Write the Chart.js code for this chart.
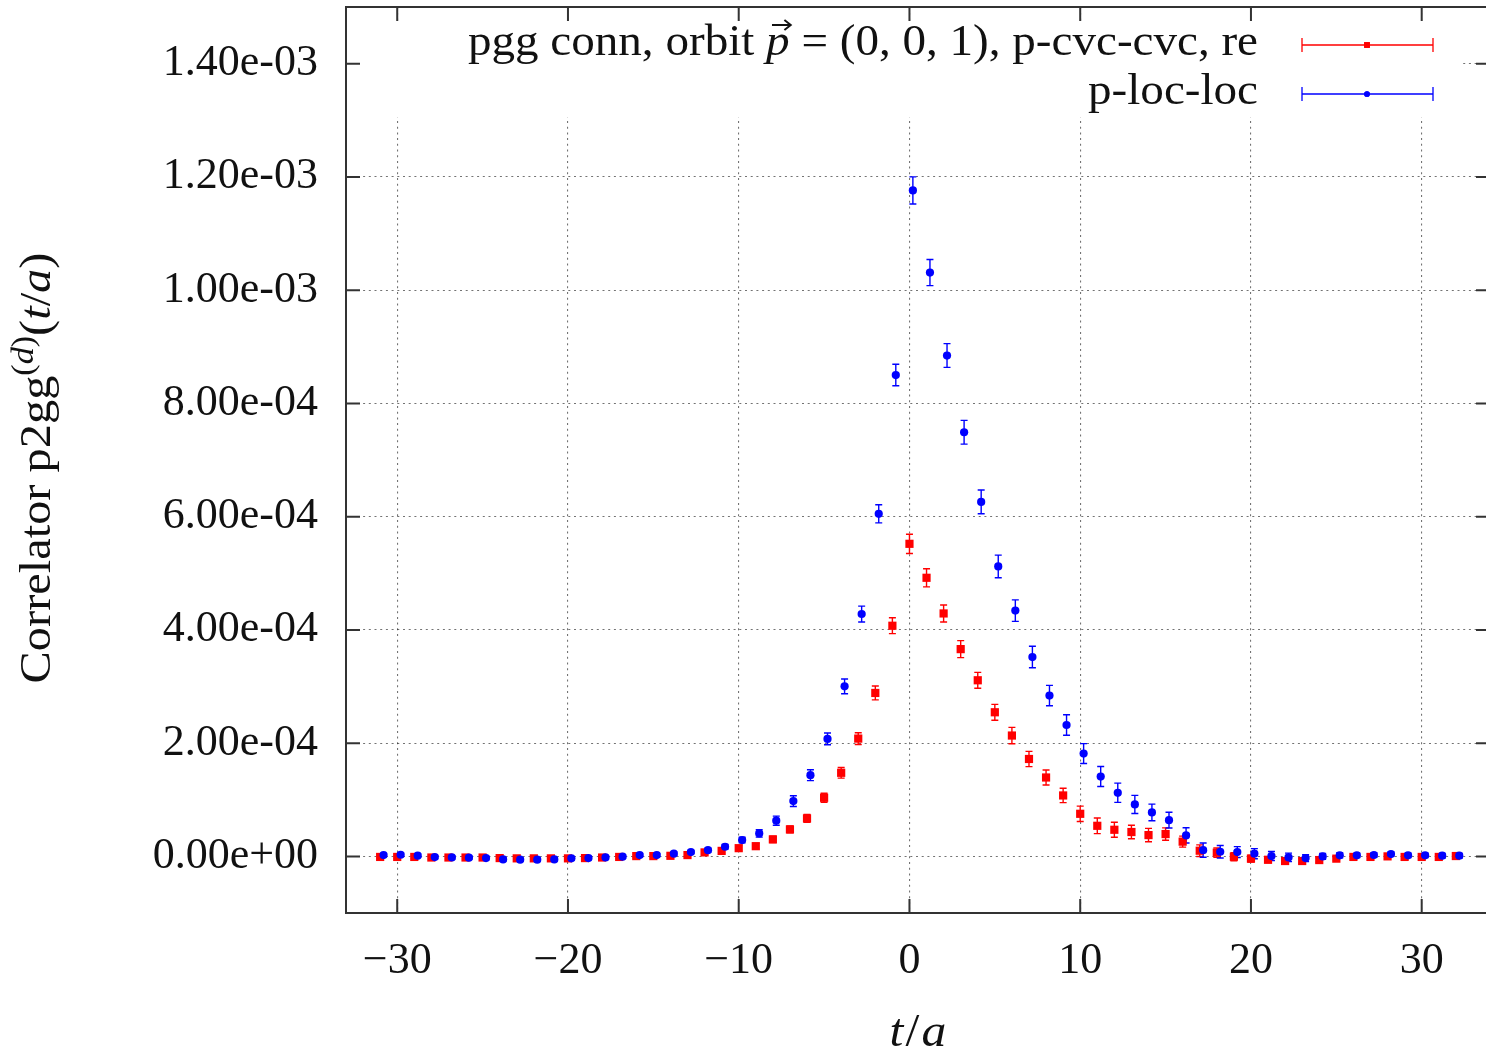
<!DOCTYPE html>
<html><head><meta charset="utf-8">
<style>html,body{margin:0;padding:0;background:#fff;overflow:hidden;}</style>
<script src="https://cdn.jsdelivr.net/npm/chart.js@4.4.0/dist/chart.umd.min.js"></script>
</head><body>
<canvas id="c" width="1500" height="1060"></canvas>
<script>
// ---- data (values and errors in units of 1e-4) ----
const redT = [-31,-30,-29,-28,-27,-26,-25,-24,-23,-22,-21,-20,-19,-18,-17,-16,-15,-14,-13,-12,-11,-10,-9,-8,-7,-6,-5,-4,-3,-2,-1,0,1,2,3,4,5,6,7,8,9,10,11,12,13,14,15,16,17,18,19,20,21,22,23,24,25,26,27,28,29,30,31,32];
const redVal = [-0.01,-0.01,-0.01,-0.02,-0.02,-0.02,-0.02,-0.03,-0.035,-0.035,-0.035,-0.035,-0.03,-0.02,-0.01,0.005,0.005,0.01,
  0.023,0.07,0.097,0.145,0.18,0.30,0.476,0.67,1.035,1.476,2.08,2.886,4.073,
  5.52,4.92,4.29,3.66,3.11,2.545,2.134,1.72,1.393,1.076,0.752,0.54,0.47,0.43,0.376,0.394,0.26,0.10,0.065,-0.006,-0.04,-0.06,-0.082,-0.082,-0.065,-0.04,-0.01,-0.01,0.0,-0.01,-0.01,-0.01,0.006];
const redErr = [0.03,0.03,0.03,0.03,0.03,0.03,0.03,0.03,0.03,0.03,0.03,0.03,0.03,0.03,0.03,0.03,0.03,0.03,
  0.03,0.035,0.04,0.045,0.05,0.055,0.06,0.07,0.08,0.094,0.103,0.123,0.14,
  0.17,0.16,0.15,0.15,0.14,0.14,0.144,0.135,0.132,0.126,0.135,0.138,0.132,0.12,0.118,0.11,0.097,0.103,0.082,0.07,0.06,0.05,0.045,0.04,0.04,0.03,0.03,0.03,0.03,0.03,0.03,0.03,0.03];
const blueT = [-30.8,-29.8,-28.8,-27.8,-26.8,-25.8,-24.8,-23.8,-22.8,-21.8,-20.8,-19.8,-18.8,-17.8,-16.8,-15.8,-14.8,-13.8,-12.8,-11.8,-10.8,-9.8,-8.8,-7.8,-6.8,-5.8,-4.8,-3.8,-2.8,-1.8,-0.8,0.2,1.2,2.2,3.2,4.2,5.2,6.2,7.2,8.2,9.2,10.2,11.2,12.2,13.2,14.2,15.2,16.2,17.2,18.2,19.2,20.2,21.2,22.2,23.2,24.2,25.2,26.2,27.2,28.2,29.2,30.2,31.2,32.2];
const blueVal = [0.023,0.029,0.012,-0.012,-0.018,-0.023,-0.03,-0.053,-0.059,-0.059,-0.053,-0.035,-0.03,-0.018,-0.006,0.023,0.023,0.047,
  0.076,0.11,0.17,0.288,0.405,0.63,0.976,1.434,2.075,3.003,4.28,6.05,8.50,
  11.76,10.31,8.845,7.49,6.26,5.12,4.34,3.52,2.84,2.32,1.816,1.41,1.123,0.917,0.776,0.64,0.37,0.11,0.082,0.076,0.047,0.006,-0.018,-0.03,0.0,0.018,0.018,0.024,0.04,0.018,0.018,0.012,0.012];
const blueErr = [0.03,0.03,0.03,0.03,0.03,0.03,0.03,0.03,0.03,0.03,0.03,0.03,0.03,0.03,0.03,0.03,0.03,0.03,
  0.03,0.035,0.04,0.05,0.065,0.08,0.094,0.097,0.103,0.13,0.14,0.16,0.19,
  0.24,0.23,0.21,0.21,0.21,0.20,0.19,0.19,0.18,0.18,0.176,0.176,0.17,0.16,0.147,0.14,0.135,0.126,0.11,0.097,0.09,0.08,0.075,0.06,0.05,0.045,0.04,0.04,0.04,0.04,0.04,0.04,0.04];
const UNIT = 1e-4;

const xTicks = [-30,-20,-10,0,10,20,30];
const xTickLabels = ['\u221230','\u221220','\u221210','0','10','20','30'];
const yTicks = [0,2e-4,4e-4,6e-4,8e-4,1.0e-3,1.2e-3,1.4e-3];
const yTickLabels = ['0.00e+00','2.00e-04','4.00e-04','6.00e-04','8.00e-04','1.00e-03','1.20e-03','1.40e-03'];
const xRange = [-33, 34];
const yRange = [-1e-4, 1.5e-3];

const FONT = '"Liberation Serif", "Times New Roman", serif';
const TXT = '#111';

const series = [
  {t: redT, v: redVal, e: redErr, color: '#ff0000', style: 'rect', r: 5.8},
  {t: blueT, v: blueVal, e: blueErr, color: '#0000ff', style: 'circle', r: 4.1}
];

function drawRich(ctx, x, y, pieces, align, sx) {
  ctx.save();
  let total = 0;
  pieces.forEach(p => { ctx.font = p.font; p.w = ctx.measureText(p.text).width; total += p.w + (p.gap||0); });
  total *= sx;
  let cx = align === 'right' ? x - total : (align === 'center' ? x - total/2 : x);
  ctx.translate(cx, y);
  ctx.scale(sx, 1);
  ctx.textBaseline = 'alphabetic';
  ctx.textAlign = 'left';
  ctx.fillStyle = TXT;
  let px = 0;
  pieces.forEach(p => {
    ctx.font = p.font;
    ctx.fillText(p.text, px, p.dy || 0);
    if (p.vec) {
      ctx.strokeStyle = TXT; ctx.lineWidth = 1.8;
      const ay = -30, ax0 = px + p.w*0.25, ax1 = px + p.w*1.05;
      ctx.beginPath(); ctx.moveTo(ax0, ay); ctx.lineTo(ax1, ay);
      ctx.moveTo(ax1 - 6, ay - 5); ctx.lineTo(ax1, ay); ctx.lineTo(ax1 - 6, ay + 5);
      ctx.stroke();
    }
    px += p.w + (p.gap||0);
  });
  ctx.restore();
}

const framePlugin = {
  id: 'frame',
  beforeDatasetsDraw(chart) {
    const ctx = chart.ctx, xs = chart.scales.x, ys = chart.scales.y, a = chart.chartArea;
    // opaque key box
    ctx.save();
    ctx.fillStyle = '#fff';
    ctx.fillRect(a.left + 1, 21, 1461 - a.left - 1, 96);
    ctx.restore();
    // error bars
    ctx.save();
    ctx.beginPath(); ctx.rect(a.left, a.top, a.right - a.left, a.bottom - a.top); ctx.clip();
    series.forEach(s => {
      ctx.strokeStyle = s.color; ctx.lineWidth = 1.4;
      for (let i = 0; i < s.t.length; i++) {
        const px = xs.getPixelForValue(s.t[i]);
        const y1 = ys.getPixelForValue((s.v[i] - s.e[i]) * UNIT);
        const y2 = ys.getPixelForValue((s.v[i] + s.e[i]) * UNIT);
        ctx.beginPath();
        ctx.moveTo(px, y1); ctx.lineTo(px, y2);
        ctx.moveTo(px - 3.5, y1); ctx.lineTo(px + 3.5, y1);
        ctx.moveTo(px - 3.5, y2); ctx.lineTo(px + 3.5, y2);
        ctx.stroke();
      }
    });
    ctx.restore();
  },
  afterDraw(chart) {
    const ctx = chart.ctx, xs = chart.scales.x, ys = chart.scales.y, a = chart.chartArea;
    ctx.save();
    ctx.strokeStyle = '#333'; ctx.lineWidth = 2;
    ctx.strokeRect(a.left, a.top, a.right - a.left, a.bottom - a.top);
    const TL = 14;
    ctx.beginPath();
    xTicks.forEach(v => {
      const p = xs.getPixelForValue(v);
      ctx.moveTo(p, a.bottom); ctx.lineTo(p, a.bottom - TL);
      ctx.moveTo(p, a.top); ctx.lineTo(p, a.top + TL);
    });
    yTicks.forEach(v => {
      const p = ys.getPixelForValue(v);
      ctx.moveTo(a.left, p); ctx.lineTo(a.left + TL, p);
      ctx.moveTo(a.right, p); ctx.lineTo(a.right - TL, p);
    });
    ctx.stroke();
    ctx.restore();

    // legend
    const N = '44px ' + FONT, I = 'italic 44px ' + FONT;
    drawRich(ctx, 1258, 55, [
      {text: 'pgg conn, orbit ', font: N},
      {text: 'p', font: I, vec: true},
      {text: ' = (0, 0, 1), p-cvc-cvc, re', font: N}
    ], 'right', 1.07);
    drawRich(ctx, 1258, 104, [{text: 'p-loc-loc', font: N}], 'right', 1.07);
    const ly = [45, 94];
    series.forEach((s, k) => {
      const y = ly[k];
      ctx.save();
      ctx.strokeStyle = s.color; ctx.fillStyle = s.color; ctx.lineWidth = 1.3;
      ctx.beginPath();
      ctx.moveTo(1302, y); ctx.lineTo(1433, y);
      ctx.moveTo(1302, y - 7); ctx.lineTo(1302, y + 7);
      ctx.moveTo(1433, y - 7); ctx.lineTo(1433, y + 7);
      ctx.stroke();
      Chart.helpers.drawPoint(ctx, {pointStyle: s.style, radius: s.r * 0.7, borderWidth: 0}, 1367, y);
      ctx.fill();
      ctx.restore();
    });

    // x title
    drawRich(ctx, 918, 1046, [
      {text: 't', font: 'italic 46px ' + FONT, gap: 2},
      {text: '/', font: '46px ' + FONT, gap: 2},
      {text: 'a', font: 'italic 46px ' + FONT}
    ], 'center', 1.08);
    // y title (rotated)
    ctx.save();
    ctx.translate(50, 468);
    ctx.rotate(-Math.PI / 2);
    drawRich(ctx, 0, 0, [
      {text: 'Correlator p2gg', font: N},
      {text: '(', font: '31px ' + FONT, dy: -17},
      {text: 'd', font: 'italic 31px ' + FONT, dy: -17},
      {text: ')', font: '31px ' + FONT, dy: -17},
      {text: '(', font: N},
      {text: 't', font: I},
      {text: '/', font: N},
      {text: 'a', font: I},
      {text: ')', font: N}
    ], 'center', 1.1);
    ctx.restore();
  }
};

const gridCommon = {color: 'rgba(0,0,0,0.55)', lineWidth: 1.1, drawTicks: false};

new Chart(document.getElementById('c'), {
  type: 'scatter',
  data: {
    datasets: [
      {label: 'p-loc-loc', data: blueT.map((t, i) => ({x: t, y: blueVal[i] * UNIT})),
       backgroundColor: '#0000ff', borderWidth: 0, pointStyle: 'circle', pointRadius: series[1].r, order: 0},
      {label: 'pgg conn, orbit p=(0,0,1), p-cvc-cvc, re', data: redT.map((t, i) => ({x: t, y: redVal[i] * UNIT})),
       backgroundColor: '#ff0000', borderWidth: 0, pointStyle: 'rect', pointRadius: series[0].r, order: 1}
    ]
  },
  options: {
    responsive: false,
    animation: false,
    events: [],
    layout: {padding: {left: 0, right: 10, top: 7, bottom: 0}},
    plugins: {legend: {display: false}, tooltip: {enabled: false}},
    scales: {
      x: {
        type: 'linear', min: xRange[0], max: xRange[1],
        afterBuildTicks: s => { s.ticks = xTicks.map(v => ({value: v})); },
        afterFit: s => { s.height = 147; s.paddingLeft = 0; s.paddingRight = 0; s.paddingTop = 0; s.paddingBottom = 0; },
        grid: gridCommon,
        border: {display: false, dash: [2, 3.7]},
        ticks: {padding: 22, color: TXT, font: {family: FONT, size: 44},
                callback: (v, i) => xTickLabels[i], maxRotation: 0, autoSkip: false}
      },
      y: {
        type: 'linear', min: yRange[0], max: yRange[1],
        afterBuildTicks: s => { s.ticks = yTicks.map(v => ({value: v})); },
        afterFit: s => { s.width = 346; s.paddingLeft = 0; s.paddingRight = 0; s.paddingTop = 0; s.paddingBottom = 0; },
        grid: gridCommon,
        border: {display: false, dash: [2, 3.7]},
        ticks: {padding: 28, color: TXT, font: {family: FONT, size: 44},
                callback: (v, i) => yTickLabels[i], autoSkip: false}
      }
    }
  },
  plugins: [framePlugin]
});
</script>
</body></html>
